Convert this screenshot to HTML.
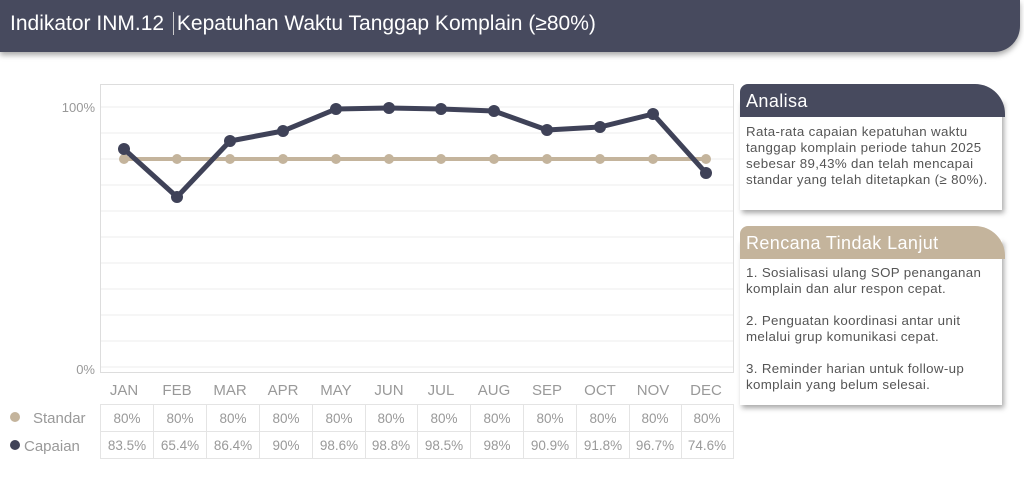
<!DOCTYPE html>
<html><head><meta charset="utf-8"><style>
body{margin:0;width:1024px;height:480px;background:#fff;font-family:"Liberation Sans",sans-serif;position:relative;overflow:hidden}
.hdr{position:absolute;left:0;top:0;width:1020px;height:52px;background:#474a5e;border-bottom-right-radius:26px;box-shadow:0 3px 6px rgba(0,0,0,.35)}
.hdr span{position:absolute;left:10px;top:12px;color:#fff;font-size:21px}
.box{position:absolute;left:740px;width:262px;background:#fff;box-shadow:2px 3px 5px rgba(0,0,0,.35)}
.bh{position:absolute;left:740px;width:265px;height:33px;border-radius:8px 30px 0 0;color:#fff;font-size:18px;letter-spacing:0.4px;box-sizing:border-box;padding:7px 0 0 6px}
.bt{font-size:13.3px;letter-spacing:0.35px;color:#555;line-height:16px;padding:7px 4px 7px 6px}
</style></head><body>
<div class="hdr"><span>Indikator INM.12 <span style="position:static;border-left:1px solid #ccc;margin:0 3px"></span>Kepatuhan Waktu Tanggap Komplain (≥80%)</span></div>
<svg width="1024" height="480" style="position:absolute;left:0;top:0">
<rect x="100.5" y="84.5" width="633" height="288" fill="#fff" stroke="#ddd"/>
<g stroke="#eee">
<line x1="101" x2="733" y1="107" y2="107"/><line x1="101" x2="733" y1="133" y2="133"/><line x1="101" x2="733" y1="159" y2="159"/><line x1="101" x2="733" y1="185" y2="185"/><line x1="101" x2="733" y1="211" y2="211"/><line x1="101" x2="733" y1="237" y2="237"/><line x1="101" x2="733" y1="263" y2="263"/><line x1="101" x2="733" y1="289" y2="289"/><line x1="101" x2="733" y1="315" y2="315"/><line x1="101" x2="733" y1="341" y2="341"/><line x1="101" x2="733" y1="367" y2="367"/>
</g>
<g font-size="13" fill="#999" text-anchor="end"><text x="95" y="112">100%</text><text x="95" y="374">0%</text></g>
<polyline fill="none" stroke="#c4b49c" stroke-width="4" points="124,159 706,159"/>
<g fill="#c4b49c"><circle cx="124" cy="159" r="5"/><circle cx="177" cy="159" r="5"/><circle cx="230" cy="159" r="5"/><circle cx="283" cy="159" r="5"/><circle cx="336" cy="159" r="5"/><circle cx="389" cy="159" r="5"/><circle cx="441" cy="159" r="5"/><circle cx="494" cy="159" r="5"/><circle cx="547" cy="159" r="5"/><circle cx="600" cy="159" r="5"/><circle cx="653" cy="159" r="5"/><circle cx="706" cy="159" r="5"/></g>
<polyline fill="none" stroke="#3f4258" stroke-width="5" stroke-linejoin="round" points="124,149 177,197 230,141 283,131 336,109 389,108 441,109 494,111 547,130 600,127 653,114 706,173"/>
<g fill="#3f4258"><circle cx="124" cy="149" r="6"/><circle cx="177" cy="197" r="6"/><circle cx="230" cy="141" r="6"/><circle cx="283" cy="131" r="6"/><circle cx="336" cy="109" r="6"/><circle cx="389" cy="108" r="6"/><circle cx="441" cy="109" r="6"/><circle cx="494" cy="111" r="6"/><circle cx="547" cy="130" r="6"/><circle cx="600" cy="127" r="6"/><circle cx="653" cy="114" r="6"/><circle cx="706" cy="173" r="6"/></g>
<g font-size="15" fill="#999" text-anchor="middle">
<text x="124" y="395">JAN</text><text x="177" y="395">FEB</text><text x="230" y="395">MAR</text><text x="283" y="395">APR</text><text x="336" y="395">MAY</text><text x="389" y="395">JUN</text><text x="441" y="395">JUL</text><text x="494" y="395">AUG</text><text x="547" y="395">SEP</text><text x="600" y="395">OCT</text><text x="653" y="395">NOV</text><text x="706" y="395">DEC</text>
</g>
<g stroke="#e4e4e4" fill="none"><rect x="100.5" y="404.5" width="633" height="54"/><line x1="100" x2="733" y1="431.5" y2="431.5"/>
<line x1="153.5" x2="153.5" y1="404" y2="459"/><line x1="206.5" x2="206.5" y1="404" y2="459"/><line x1="259.5" x2="259.5" y1="404" y2="459"/><line x1="312.5" x2="312.5" y1="404" y2="459"/><line x1="365.5" x2="365.5" y1="404" y2="459"/><line x1="417.5" x2="417.5" y1="404" y2="459"/><line x1="470.5" x2="470.5" y1="404" y2="459"/><line x1="523.5" x2="523.5" y1="404" y2="459"/><line x1="576.5" x2="576.5" y1="404" y2="459"/><line x1="629.5" x2="629.5" y1="404" y2="459"/><line x1="681.5" x2="681.5" y1="404" y2="459"/></g>
<g font-size="13.5" fill="#999" text-anchor="middle">
<text x="127" y="423">80%</text><text x="180" y="423">80%</text><text x="233" y="423">80%</text><text x="286" y="423">80%</text><text x="339" y="423">80%</text><text x="391" y="423">80%</text><text x="444" y="423">80%</text><text x="497" y="423">80%</text><text x="550" y="423">80%</text><text x="603" y="423">80%</text><text x="655" y="423">80%</text><text x="707" y="423">80%</text>
<text x="127" y="450">83.5%</text><text x="180" y="450">65.4%</text><text x="233" y="450">86.4%</text><text x="286" y="450">90%</text><text x="339" y="450">98.6%</text><text x="391" y="450">98.8%</text><text x="444" y="450">98.5%</text><text x="497" y="450">98%</text><text x="550" y="450">90.9%</text><text x="603" y="450">91.8%</text><text x="655" y="450">96.7%</text><text x="707" y="450">74.6%</text>
</g>
<circle cx="15" cy="417" r="5" fill="#c4b49c"/><text x="33" y="423" font-size="15" fill="#999">Standar</text>
<circle cx="15" cy="445" r="5" fill="#3f4258"/><text x="24" y="451" font-size="15" fill="#999">Capaian</text>
</svg>
<div class="box" style="top:100px;height:110px"><div class="bt" style="padding-top:24px">Rata-rata capaian kepatuhan waktu tanggap komplain periode tahun 2025 sebesar 89,43% dan telah mencapai standar yang telah ditetapkan (≥ 80%).</div></div>
<div class="bh" style="top:84px;background:#474a5e">Analisa</div>
<div class="box" style="top:240px;height:165px"><div class="bt" style="padding-top:25px">1. Sosialisasi ulang SOP penanganan komplain dan alur respon cepat.<br><br>2. Penguatan koordinasi antar unit melalui grup komunikasi cepat.<br><br>3. Reminder harian untuk follow-up komplain yang belum selesai.</div></div>
<div class="bh" style="top:226px;background:#c4b49c">Rencana Tindak Lanjut</div>
</body></html>
